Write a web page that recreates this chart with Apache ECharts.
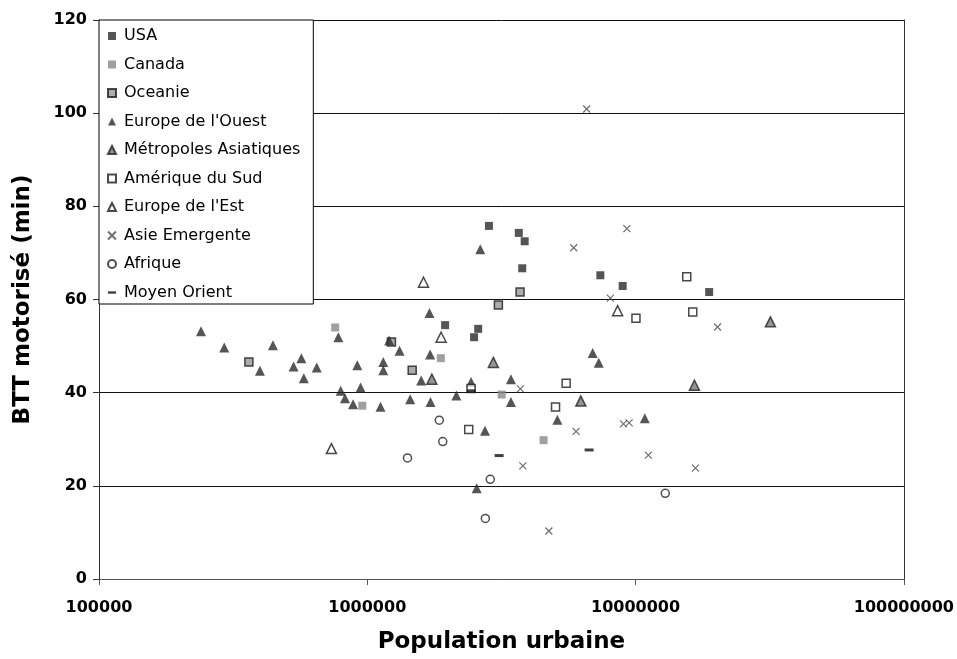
<!DOCTYPE html>
<html>
<head>
<meta charset="utf-8">
<script src="https://cdn.jsdelivr.net/npm/echarts@6/dist/echarts.min.js"></script>
<style>html,body{margin:0;padding:0;background:#fff}#c{width:957px;height:659px}</style>
</head>
<body>
<div id="c"></div>
<script>
// ---- data (population urbaine, BTT motorisé en minutes) ----
const seriesNames = ['USA','Canada','Oceanie',"Europe de l'Ouest",'Métropoles Asiatiques','Amérique du Sud',"Europe de l'Est",'Asie Emergente','Afrique','Moyen Orient'];
const xTicks = [100000, 1000000, 10000000, 100000000];
const yTicks = [0, 20, 40, 60, 80, 100, 120];

const usaPop = [2840000, 3670000, 3860000, 3780000, 7390000, 8950000, 18800000, 1950000, 2590000, 2500000];
const usaBTT = [75.8, 74.3, 72.5, 66.7, 65.2, 62.9, 61.6, 54.5, 53.7, 51.9];

const canadaPop = [759000, 1880000, 958000, 3170000, 4540000];
const canadaBTT = [54.0, 47.4, 37.2, 39.6, 29.8];

const oceaniePop = [362000, 1230000, 1470000, 3080000, 3710000];
const oceanieBTT = [46.6, 50.9, 44.8, 58.8, 61.6];

const ouestPop = [240000, 293000, 445000, 398000, 568000, 531000, 648000, 580000, 780000, 796000, 944000, 826000, 885000, 918000, 1120000, 1147000, 1147000, 1206000, 1319000, 1445000, 1588000, 1715000, 1705000, 1720000, 2148000, 2436000, 2637000, 2746000, 2557000, 3430000, 3430000, 5110000, 6920000, 7290000, 10820000];
const ouestBTT = [53.2, 49.7, 50.2, 44.7, 47.4, 45.6, 45.4, 43.1, 51.9, 40.4, 41.1, 38.8, 37.5, 45.9, 37.0, 46.6, 44.8, 51.2, 49.0, 38.6, 42.6, 48.2, 57.1, 38.0, 39.4, 42.3, 70.8, 31.8, 19.5, 42.9, 38.0, 34.2, 48.5, 46.4, 34.5];

const asiatPop = [1740000, 2950000, 6250000, 16570000, 31800000];
const asiatBTT = [42.9, 46.5, 38.2, 41.6, 55.2];

const sudPop = [15510000, 10030000, 16330000, 5510000, 5030000, 2388000, 2436000];
const sudBTT = [64.9, 56.0, 57.3, 42.0, 36.9, 32.1, 40.9];

const estPop = [1620000, 1884000, 8570000, 735000];
const estBTT = [63.7, 51.9, 57.6, 28.0];

const asiePop = [6570000, 9280000, 5880000, 8050000, 20200000, 3720000, 9010000, 9460000, 6000000, 11160000, 3800000, 16710000, 4750000];
const asieBTT = [100.9, 75.2, 71.1, 60.3, 54.1, 40.8, 33.3, 33.5, 31.7, 26.6, 24.3, 23.8, 10.3];

const afriquePop = [1855000, 1911000, 1412000, 2873000, 2754000, 12900000];
const afriqueBTT = [34.1, 29.5, 26.0, 21.4, 13.0, 18.4];

const moyenPop = [3100000, 6710000, 2440000];
const moyenBTT = [26.5, 27.7, 40.4];

// ---- build ----
function zip(xs, ys){ return xs.map((x,i)=>[x, ys[i]]); }
const crossPath = 'path://M0,0L10,10M10,0L0,10';

const styles = [
  {symbol:'rect', symbolSize:8, itemStyle:{color:'#2a2a2a'}},
  {symbol:'rect', symbolSize:8, itemStyle:{color:'#888'}},
  {symbol:'rect', symbolSize:8, itemStyle:{color:'#999', borderColor:'#1a1a1a', borderWidth:1.5}},
  {symbol:'triangle', symbolSize:10, itemStyle:{color:'#2a2a2a'}},
  {symbol:'triangle', symbolSize:10, itemStyle:{color:'#7a7a7a', borderColor:'#222', borderWidth:1.5}},
  {symbol:'rect', symbolSize:8, itemStyle:{color:'#fff', borderColor:'#1a1a1a', borderWidth:1.5}},
  {symbol:'triangle', symbolSize:10, itemStyle:{color:'#fff', borderColor:'#1a1a1a', borderWidth:1.5}},
  {symbol:crossPath, symbolSize:7, itemStyle:{color:'rgba(0,0,0,0)', borderColor:'#4a4a4a', borderWidth:1.2}},
  {symbol:'circle', symbolSize:8, itemStyle:{color:'#fff', borderColor:'#222', borderWidth:1.5}},
  {symbol:'rect', symbolSize:[9,3], itemStyle:{color:'#111'}}
];
const dataSets = [
  zip(usaPop, usaBTT), zip(canadaPop, canadaBTT), zip(oceaniePop, oceanieBTT),
  zip(ouestPop, ouestBTT), zip(asiatPop, asiatBTT), zip(sudPop, sudBTT),
  zip(estPop, estBTT), zip(asiePop, asieBTT), zip(afriquePop, afriqueBTT), zip(moyenPop, moyenBTT)
];

const series = seriesNames.map((n,i)=>Object.assign({
  name:n, type:'scatter', data:dataSets[i], z:3+i, emphasis:{disabled:true}
}, styles[i]));

const legendIcons = [
  'rect','rect','rect','triangle','triangle','rect','triangle', crossPath, 'circle', 'path://M0,0h10v3h-10z'
];

const chart = echarts.init(document.getElementById('c'), null, {renderer:'canvas'});
chart.setOption({
  animation:false,
  backgroundColor:'#fff',
  grid:{left:99, right:52, top:20, bottom:80},
  legend:{
    orient:'vertical', left:99, top:20,
    data: seriesNames.map((n,i)=>({name:n, icon:legendIcons[i]})),
    itemWidth:8, itemHeight:8, itemGap:12.5,
    padding:[8,13,3.5,8],
    backgroundColor:'#fff', borderColor:'#000', borderWidth:1,
    textStyle:{fontFamily:'DejaVu Sans', fontSize:16, color:'#000', lineHeight:16, padding:[0,0,0,3]},
    selectedMode:false, z:10
  },
  xAxis:{
    type:'log', logBase:10, min:xTicks[0], max:xTicks[xTicks.length-1],
    name:'Population urbaine', nameLocation:'middle', nameGap:52,
    nameTextStyle:{fontFamily:'DejaVu Sans', fontWeight:'bold', fontSize:23, color:'#000'},
    axisLine:{show:true, onZero:false, lineStyle:{color:'#555', width:1}},
    axisTick:{show:true, inside:false, length:6, lineStyle:{color:'#555'}},
    minorTick:{show:false},
    splitLine:{show:false},
    axisLabel:{fontFamily:'DejaVu Sans', fontWeight:'bold', fontSize:16, color:'#000', margin:21,
      formatter:v=>String(Math.round(v))}
  },
  yAxis:[{
    type:'value', min:yTicks[0], max:yTicks[yTicks.length-1], interval:20,
    name:'BTT motorisé (min)', nameLocation:'middle', nameGap:64,
    nameTextStyle:{fontFamily:'DejaVu Sans', fontWeight:'bold', fontSize:23, color:'#000'},
    axisLine:{show:true, lineStyle:{color:'#333', width:1}},
    axisTick:{show:true, inside:false, length:6, lineStyle:{color:'#333'}},
    splitLine:{show:true, lineStyle:{color:'#111', width:1}},
    axisLabel:{fontFamily:'DejaVu Sans', fontWeight:'bold', fontSize:16, color:'#000', margin:12}
  },{
    type:'value', min:yTicks[0], max:yTicks[yTicks.length-1], interval:20, position:'right',
    axisLine:{show:true, lineStyle:{color:'#333', width:1}},
    axisTick:{show:false}, axisLabel:{show:false}, splitLine:{show:false}
  }],
  series: series
});
</script>
</body>
</html>
